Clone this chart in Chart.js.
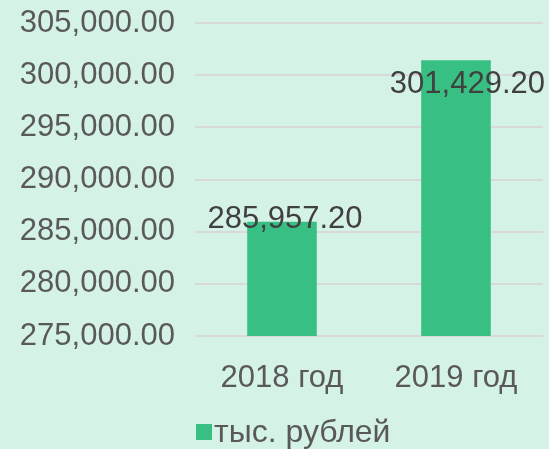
<!DOCTYPE html>
<html>
<head>
<meta charset="utf-8">
<script src="https://cdn.jsdelivr.net/npm/chart.js@4"></script>
<style>
  html, body { margin: 0; padding: 0; background: #d5f2e6; }
  #wrap { width: 549px; height: 449px; }
</style>
</head>
<body>
<div id="wrap"><canvas id="chart" width="549" height="449"></canvas></div>
<script>
const categories = ["2018 год", "2019 год"];
const values = [285957.2, 301429.2];
const seriesName = "тыс. рублей";
const yMin = 275000;
const yMax = 305000;
const yStep = 5000;

const fmt = (v) => v.toLocaleString("en-US", { minimumFractionDigits: 2, maximumFractionDigits: 2 });
const FONT = "'Liberation Sans', Arial, sans-serif";
const BAR = "#38c084";

// value labels over the bar tops; the one that hits the top of the plot
// is pushed down and to the right edge
const valueLabels = {
  id: "valueLabels",
  afterDatasetsDraw(chart) {
    const ctx = chart.ctx;
    const area = chart.chartArea;
    const meta = chart.getDatasetMeta(0);
    ctx.save();
    ctx.font = "31px " + FONT;
    ctx.fillStyle = "#404040";
    ctx.textAlign = "center";
    ctx.textBaseline = "middle";
    meta.data.forEach((bar, i) => {
      const txt = fmt(values[i]);
      const w = ctx.measureText(txt).width;
      let x = bar.x + 3;
      let y = bar.y - 2;
      if (y < area.top + 61) {
        y = area.top + 61;
        x = area.right + 2 - w / 2;
      }
      ctx.fillText(txt, x, y);
    });
    ctx.restore();
  },
};

// small legend under the axis: square then the series name
const bottomLegend = {
  id: "bottomLegend",
  afterDraw(chart) {
    const ctx = chart.ctx;
    ctx.save();
    ctx.fillStyle = BAR;
    ctx.fillRect(196, 424, 16, 16);
    ctx.font = "32px " + FONT;
    ctx.fillStyle = "#595959";
    ctx.textAlign = "left";
    ctx.textBaseline = "middle";
    ctx.fillText(chart.data.datasets[0].label, 214, 433);
    ctx.restore();
  },
};

new Chart(document.getElementById("chart").getContext("2d"), {
  type: "bar",
  data: {
    labels: categories,
    datasets: [
      {
        label: seriesName,
        data: values,
        backgroundColor: BAR,
        categoryPercentage: 0.8,
        barPercentage: 0.5,
      },
    ],
  },
  options: {
    responsive: false,
    animation: false,
    layout: { padding: { top: 23, right: 6, left: 0, bottom: 0 } },
    plugins: {
      legend: { display: false },
      tooltip: { enabled: false },
    },
    scales: {
      x: {
        grid: { display: false },
        border: { display: false },
        afterFit(scale) { scale.height = 113; },
        ticks: { font: { family: FONT, size: 31 }, color: "#595959", padding: 16 },
      },
      y: {
        min: yMin,
        max: yMax,
        grid: { color: "#d9d9d9", lineWidth: 2, drawTicks: false },
        border: { display: false },
        afterFit(scale) {
          scale.width = 195;
          scale.paddingTop = 0;
          scale.paddingBottom = 0;
        },
        ticks: {
          stepSize: yStep,
          font: { family: FONT, size: 31 },
          color: "#595959",
          padding: 20,
          callback: (v) => fmt(v),
        },
      },
    },
  },
  plugins: [valueLabels, bottomLegend],
});
</script>
</body>
</html>
